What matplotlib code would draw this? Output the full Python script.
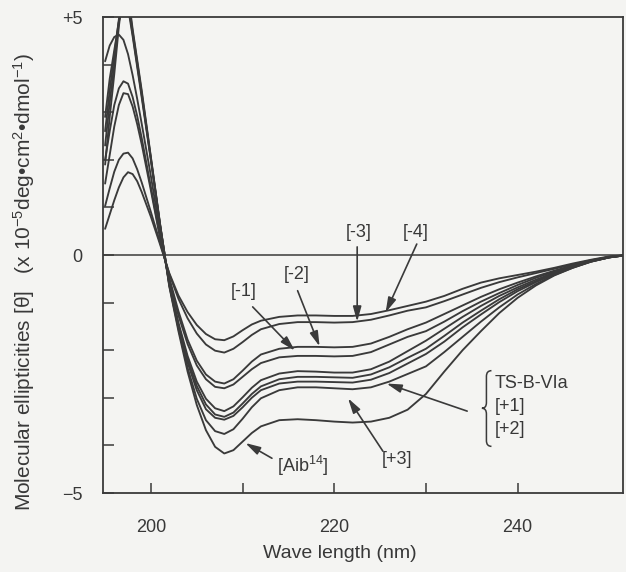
import matplotlib
matplotlib.use("Agg")
import matplotlib.pyplot as plt
from matplotlib.path import Path
from matplotlib.patches import PathPatch

plt.rcParams['font.family'] = ['Liberation Sans', 'DejaVu Sans']
plt.rcParams['mathtext.fontset'] = 'custom'
plt.rcParams['mathtext.rm'] = 'Liberation Sans'
plt.rcParams['mathtext.it'] = 'Liberation Sans:italic'
plt.rcParams['mathtext.bf'] = 'Liberation Sans:bold'

# CD spectra: wavelength (nm) and molecular ellipticity (x 10^-5 deg cm2 dmol-1)
wavelength = [195, 195.5, 196, 196.5, 197, 197.5, 198, 198.5, 199, 200, 201, 202, 203,
              204, 205, 206, 207, 208, 209, 210, 211, 212, 214, 216, 218, 220, 222,
              224, 226, 228, 230, 232, 234, 236, 238, 240, 242, 244, 246, 248, 250, 252]

minus4 = [0.55, 0.85, 1.15, 1.42, 1.63, 1.74, 1.70, 1.55, 1.32, 0.80, 0.22, -0.38, -0.85,
          -1.20, -1.47, -1.66, -1.77, -1.79, -1.71, -1.58, -1.46, -1.38, -1.30, -1.27, -1.27,
          -1.28, -1.28, -1.24, -1.16, -1.07, -0.98, -0.86, -0.71, -0.58, -0.49, -0.42, -0.35,
          -0.27, -0.18, -0.10, -0.03, 0.0]
minus3 = [1.03, 1.40, 1.75, 2.00, 2.13, 2.15, 2.03, 1.80, 1.52, 0.90, 0.26, -0.40, -0.92,
          -1.33, -1.65, -1.88, -2.01, -2.05, -1.97, -1.83, -1.68, -1.56, -1.45, -1.41, -1.41,
          -1.42, -1.41, -1.36, -1.27, -1.17, -1.10, -0.97, -0.83, -0.69, -0.57, -0.47, -0.38,
          -0.29, -0.20, -0.11, -0.04, 0.0]
minus2 = [1.50, 2.10, 2.70, 3.15, 3.40, 3.38, 3.12, 2.75, 2.32, 1.35, 0.35, -0.48, -1.18,
          -1.78, -2.22, -2.51, -2.66, -2.70, -2.61, -2.43, -2.24, -2.09, -1.97, -1.93, -1.93,
          -1.94, -1.93, -1.86, -1.72, -1.56, -1.42, -1.24, -1.06, -0.88, -0.72, -0.58, -0.45,
          -0.33, -0.22, -0.12, -0.04, 0.0]
minus1 = [2.00, 2.60, 3.15, 3.50, 3.65, 3.60, 3.32, 2.92, 2.45, 1.42, 0.38, -0.52, -1.27,
          -1.87, -2.32, -2.61, -2.77, -2.80, -2.72, -2.56, -2.40, -2.27, -2.15, -2.12, -2.12,
          -2.13, -2.12, -2.04, -1.88, -1.72, -1.60, -1.40, -1.18, -0.98, -0.80, -0.63, -0.48,
          -0.35, -0.23, -0.12, -0.04, 0.0]
ts_b_via = [4.07, 4.40, 4.58, 4.63, 4.52, 4.22, 3.78, 3.28, 2.75, 1.65, 0.48, -0.58, -1.42,
            -2.12, -2.66, -3.02, -3.22, -3.28, -3.18, -2.99, -2.79, -2.63, -2.49, -2.44, -2.45,
            -2.47, -2.47, -2.40, -2.24, -2.02, -1.80, -1.55, -1.30, -1.07, -0.86, -0.68, -0.52,
            -0.37, -0.24, -0.13, -0.05, 0.0]
plus1 = [2.90, 3.70, 4.30, 4.90, 5.30, 5.20, 4.60, 3.95, 3.30, 1.98, 0.62, -0.60, -1.47,
         -2.20, -2.75, -3.14, -3.35, -3.40, -3.31, -3.12, -2.92, -2.76, -2.61, -2.56, -2.56,
         -2.57, -2.58, -2.51, -2.36, -2.16, -1.97, -1.70, -1.42, -1.17, -0.93, -0.72, -0.55,
         -0.39, -0.25, -0.13, -0.05, 0.0]
plus2 = [2.60, 3.45, 4.20, 4.95, 5.40, 5.30, 4.65, 4.00, 3.35, 2.00, 0.62, -0.62, -1.50,
         -2.26, -2.84, -3.24, -3.42, -3.46, -3.38, -3.20, -3.00, -2.84, -2.70, -2.66, -2.66,
         -2.67, -2.68, -2.62, -2.48, -2.28, -2.08, -1.82, -1.52, -1.25, -0.99, -0.76, -0.57,
         -0.40, -0.26, -0.14, -0.05, 0.0]
plus3 = [2.30, 3.20, 4.00, 4.90, 5.50, 5.40, 4.70, 4.05, 3.40, 2.03, 0.64, -0.64, -1.55,
         -2.37, -3.02, -3.47, -3.70, -3.76, -3.66, -3.44, -3.20, -3.01, -2.84, -2.78, -2.78,
         -2.80, -2.82, -2.78, -2.66, -2.50, -2.34, -2.04, -1.72, -1.40, -1.10, -0.83, -0.61,
         -0.42, -0.27, -0.14, -0.05, 0.0]
aib14 = [1.90, 2.90, 3.80, 4.80, 5.60, 5.50, 4.75, 4.10, 3.45, 2.05, 0.65, -0.66, -1.60,
         -2.45, -3.15, -3.68, -4.03, -4.17, -4.10, -3.92, -3.74, -3.60, -3.47, -3.45, -3.47,
         -3.50, -3.52, -3.50, -3.42, -3.25, -2.92, -2.45, -2.00, -1.60, -1.22, -0.90, -0.64,
         -0.43, -0.27, -0.14, -0.05, 0.0]

spectra = [minus4, minus3, minus2, minus1, ts_b_via, plus1, plus2, plus3, aib14]

xticks = [200, 210, 220, 230, 240]
xticklabels = ['200', '', '220', '', '240']
yticks = [-5, -4, -3, -2, -1, 0, 1, 2, 3, 4, 5]
yticklabels = ['\u22125', '', '', '', '', '0', '', '', '', '', '+5']

ink = '#3a3a3a'
txt = '#383838'
bg = '#f4f4f2'

fig = plt.figure(figsize=(6.26, 5.72), dpi=100, facecolor=bg)
ax = fig.add_axes([103 / 626, 1 - 493 / 572, 520 / 626, 476 / 572], facecolor=bg)

for s in spectra:
    ax.plot(wavelength, s, color=ink, lw=1.35, solid_joinstyle='round',
            solid_capstyle='round')

ax.axhline(0, color=ink, lw=1.1)

ax.set_xlim(194.77, 251.5)
ax.set_ylim(-5, 5)
ax.set_xticks(xticks)
ax.set_xticklabels(xticklabels)
ax.set_yticks(yticks)
ax.set_yticklabels(yticklabels)
ax.tick_params(axis='x', direction='in', length=7, width=1.1, color=ink,
               labelsize=13, labelcolor=txt, pad=19)
ax.tick_params(axis='y', direction='in', length=8, width=1.1, color=ink,
               labelsize=13, labelcolor=txt, pad=15)
for sp in ax.spines.values():
    sp.set_color(ink)
    sp.set_linewidth(1.3)

fig.text(340 / 626, 1 - 553 / 572, 'Wave length (nm)', ha='center', va='center',
         fontsize=14, color=txt)
fig.text(24 / 626, 1 - 282 / 572,
         'Molecular ellipticities [\u03b8]   (x 10$^{-5}$deg\u2022cm$^{2}$\u2022dmol$^{-1}$)',
         ha='center', va='center', rotation=90, fontsize=15, color=txt)

arrow = dict(arrowstyle='-|>,head_length=0.9,head_width=0.25', color=ink, lw=1.2,
             shrinkA=0, shrinkB=0)
lab = dict(fontsize=13, color=txt, ha='center', va='center')

ax.annotate('', xy=(215.7, -2.01), xytext=(211.1, -1.09), arrowprops=arrow)
ax.text(210.1, -0.77, '[-1]', **lab)
ax.annotate('', xy=(218.4, -1.92), xytext=(216.0, -0.75), arrowprops=arrow)
ax.text(215.9, -0.42, '[-2]', **lab)
ax.annotate('', xy=(222.5, -1.40), xytext=(222.5, 0.17), arrowprops=arrow)
ax.text(222.7, 0.48, '[-3]', **lab)
ax.annotate('', xy=(225.6, -1.21), xytext=(229.0, 0.23), arrowprops=arrow)
ax.text(228.9, 0.48, '[-4]', **lab)
ax.annotate('', xy=(210.3, -3.95), xytext=(213.2, -4.27), arrowprops=arrow)
ax.text(216.6, -4.44, '[Aib$^{14}$]', **lab)
ax.annotate('', xy=(221.5, -3.01), xytext=(225.3, -4.12), arrowprops=arrow)
ax.text(226.8, -4.29, '[+3]', **lab)
ax.annotate('', xy=(225.7, -2.70), xytext=(234.5, -3.28), arrowprops=arrow)

# curly brace grouping three labels
bx, bmid, btop, bbot = 236.6, -3.22, -2.43, -4.02
dx = 0.55
verts = [(bx + dx, btop), (bx, btop), (bx, btop - 0.12),
         (bx, bmid + 0.12), (bx, bmid), (bx - dx * 0.9, bmid),
         (bx, bmid), (bx, bmid - 0.12),
         (bx, bbot + 0.12), (bx, bbot), (bx + dx, bbot)]
codes = [Path.MOVETO, Path.CURVE3, Path.CURVE3,
         Path.LINETO, Path.CURVE3, Path.CURVE3,
         Path.CURVE3, Path.CURVE3,
         Path.LINETO, Path.CURVE3, Path.CURVE3]
ax.add_patch(PathPatch(Path(verts, codes), fill=False, edgecolor=ink, lw=1.1))

for yv, t in [(-2.70, 'TS-B-VIa'), (-3.19, '[+1]'), (-3.67, '[+2]')]:
    ax.text(237.5, yv, t, fontsize=13, color=txt, ha='left', va='center')

fig.savefig('out.png', dpi=100, facecolor=bg)
